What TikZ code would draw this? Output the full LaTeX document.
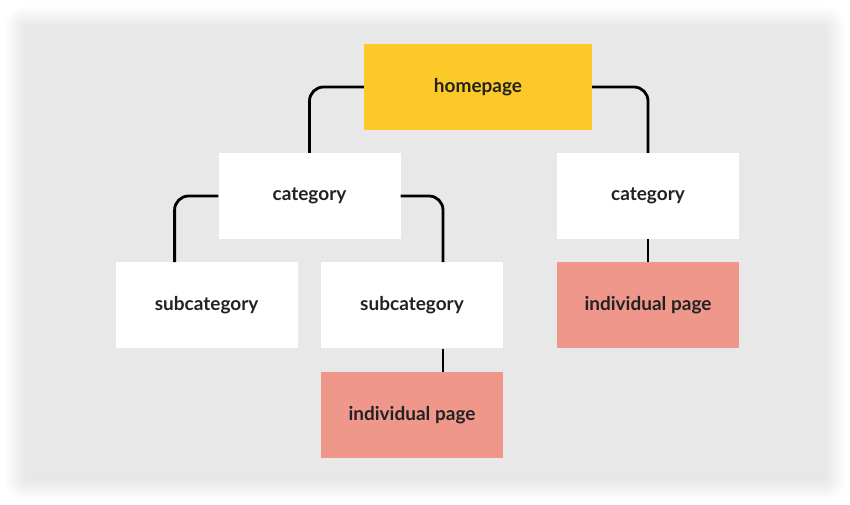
\documentclass[tikz,border=0pt]{standalone}
\usepackage{fontspec}
\setmainfont{Lato}
\usepackage{tikz}
\usetikzlibrary{positioning,shadows.blur}
\definecolor{panelc}{HTML}{E8E8E8}
\definecolor{homec}{HTML}{FCC928}
\definecolor{leafc}{HTML}{F0978B}
\definecolor{textc}{HTML}{222222}
\tikzset{
  page/.style={rectangle, minimum width=182pt, minimum height=86pt, inner sep=0pt,
               font=\fontsize{19}{22}\selectfont\bfseries, text=textc, fill=white},
  homebox/.style={page, fill=homec, minimum width=228pt},
  leafbox/.style={page, fill=leafc},
  link/.style={draw=black, line width=2.8pt, rounded corners=14pt},
}
\begin{document}
\begin{tikzpicture}[x=1pt, y=1pt, node distance=23pt]
  \useasboundingbox (0,0) rectangle (850,-504);
  \fill[panelc, blur shadow={shadow xshift=0pt, shadow yshift=-2pt, shadow blur radius=22pt,
        shadow blur steps=24, shadow opacity=18}]
    (25,-25) rectangle (825,-478);

  \node[homebox] (home) at (478,-87) {homepage};
  \node[page] (catL) at (309.5,-196) {category};
  \node[page] (catR) at (648,-196) {category};
  \node[page, below=of catL, xshift=102.5pt] (subM) {subcategory};
  \node[page, left=of subM] (subL) {subcategory};
  \node[leafbox, below=of catR] (indR) {individual page};
  \node[leafbox, below=of subM] (indM) {individual page};

  \draw[link] (home.west) -| (catL.north);
  \draw[link] (home.east) -| (catR.north);
  \draw[link] (catL.west) -| ([xshift=-32pt]subL.north);
  \draw[link] (catL.east) -| ([xshift=31pt]subM.north);
  \draw[link] ([xshift=31pt]subM.south) -- ([xshift=31pt]indM.north);
  \draw[link] (catR.south) -- (indR.north);
\end{tikzpicture}
\end{document}
